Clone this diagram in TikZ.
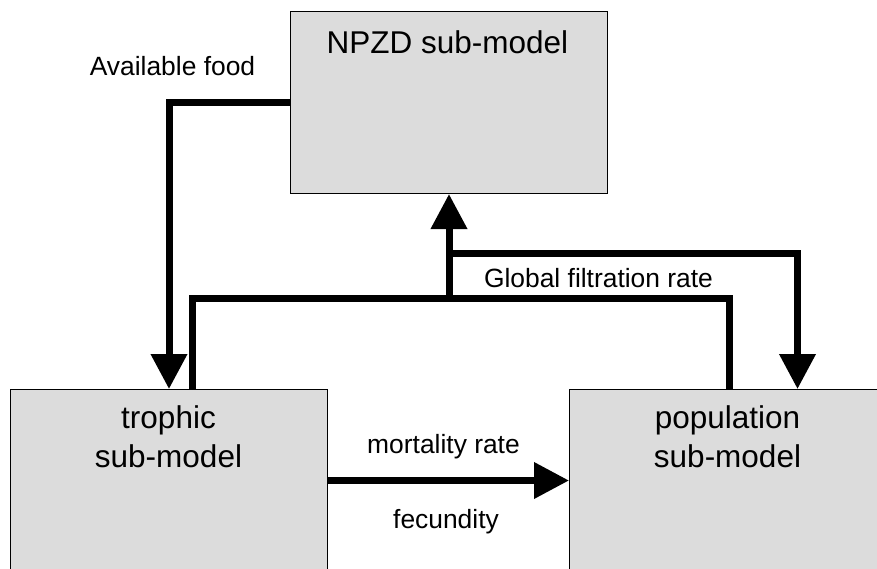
\documentclass[tikz,border=0pt]{standalone}
\usepackage{fontspec}
\setmainfont{Liberation Sans}
\usetikzlibrary{arrows.meta}
\definecolor{boxgray}{RGB}{220,220,220}
\begin{document}
\begin{tikzpicture}[x=1pt,y=-1pt,
  box/.style={draw=black, line width=1pt, fill=boxgray, minimum width=317pt, minimum height=182pt, inner sep=0pt, anchor=north west},
  conn/.style={line width=7pt, line join=miter},
  tipto/.style={-{Triangle[width=35pt,length=35pt]}},
  lbl/.style={font=\fontsize{26.4}{30}\selectfont, inner sep=0pt, anchor=base},
  ttl/.style={font=\fontsize{31.5}{38}\selectfont, inner sep=0pt, anchor=base}]
\useasboundingbox (0,0) rectangle (877,568);
\clip (0,0) rectangle (877,568);
% boxes
\node[box] (npzd) at (290,11) {};
\node[box] (trophic) at (10,389) {};
\node[box] (population) at (569,389) {};
% titles
\node[ttl] (npzdT) at (447.5,53) {NPZD sub-model};
\node[ttl] (trophicT1) at (168.5,428) {trophic};
\node[ttl] (trophicT2) at (168.5,467) {sub-model};
\node[ttl] (popT1) at (727.5,428) {population};
\node[ttl] (popT2) at (727.5,467) {sub-model};
% junction coordinates
\coordinate (up) at ([xshift=23.5pt]trophic.north);
\coordinate (upR) at ([xshift=1.5pt]population.north);
\coordinate (gfr) at (npzd.south |- 0,298);
\coordinate (gfr2) at (npzd.south |- 0,253);
\coordinate (dnR) at ([xshift=69.5pt]population.north);
% connectors
\draw[conn,tipto] (npzd.west) -| (trophic.north);
\draw[conn] (up) |- (gfr) -| (upR);
\draw[conn] ([yshift=-3.5pt]gfr) -- (gfr);
\draw[conn,tipto] (gfr) -- (npzd.south);
\draw[conn,tipto] (gfr2) -| (dnR);
\draw[conn,tipto] (trophic.east) -- (population.west);
% labels
\node[lbl] (avail) at (172.5,75) {Available food};
\node[lbl] (global) at (598.5,287) {Global filtration rate};
\node[lbl] (mort) at (443.5,453) {mortality rate};
\node[lbl] (fec) at (446,528) {fecundity};
\end{tikzpicture}
\end{document}
